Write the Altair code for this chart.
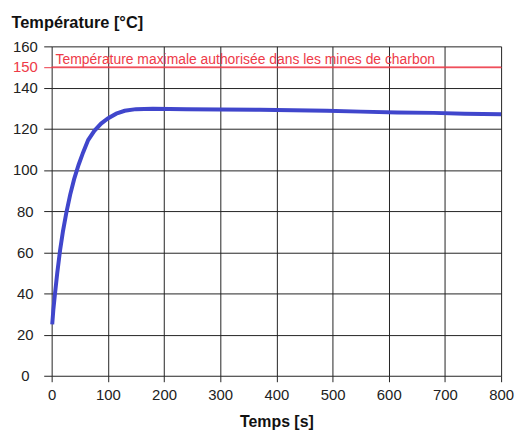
import altair as alt
import pandas as pd

# Temperature curve
temps_s = [1, 3, 6, 10, 15, 20, 26, 33, 40, 48, 56, 65, 76, 88, 100, 115, 130, 150,
           180, 240, 300, 370, 430, 490, 550, 615, 680, 735, 800]
temp_c = [25, 32, 40, 50, 61, 70, 79, 88, 95.5, 102.5, 108.5, 114.5, 119, 122.5, 125,
          127.3, 128.7, 129.5, 129.7, 129.5, 129.3, 129.2, 129.0, 128.7, 128.3, 127.9,
          127.7, 127.3, 127.0]

limit_value = [150]
limit_label = ["Température maximale authorisée dans les mines de charbon"]
y_ticks = [0, 20, 40, 60, 80, 100, 120, 140, 150, 160]
x_ticks = [0, 100, 200, 300, 400, 500, 600, 700, 800]

RED = "#ee3a48"
BLUE = "#4046cc"
FONT = "Liberation Sans"

df = pd.DataFrame({"t": temps_s, "T": temp_c})
lim = pd.DataFrame({"y": limit_value, "x": [0], "label": limit_label})

xscale = alt.Scale(domain=[0, 800], nice=False, zero=False)
yscale = alt.Scale(domain=[0, 160], nice=False)

xaxis = alt.Axis(values=x_ticks, grid=True, gridColor="#222", gridOpacity=1, gridWidth=1,
                 tickColor="#222", tickSize=6, domain=False, labelFont=FONT, labelFontSize=15,
                 labelColor="#222", labelPadding=6, labelOverlap=False, labelFlush=False,
                 title="Temps [s]", titleFont=FONT,
                 titleFontSize=16, titleFontWeight="bold", titleColor="#111", titlePadding=11)

cond_color = {"condition": {"test": "datum.value == 150", "value": RED}, "value": "#222"}
yaxis = alt.Axis(values=y_ticks, grid=True, gridColor=cond_color, gridOpacity=1, gridWidth=1,
                 tickColor=cond_color, tickSize=8, domain=False, labelFont=FONT, labelFontSize=15,
                 labelColor=cond_color, labelPadding=19, labelAlign="center", labelOverlap=False,
                 labelFlush=False, title="Température [°C]",
                 titleFont=FONT, titleFontSize=16.5, titleFontWeight="bold", titleColor="#111",
                 titleAngle=0, titleAlign="left", titleBaseline="alphabetic", titleX=-41, titleY=-19)

line = alt.Chart(df).mark_line(color=BLUE, strokeWidth=4).encode(
    x=alt.X("t:Q", scale=xscale, axis=xaxis),
    y=alt.Y("T:Q", scale=yscale, axis=yaxis),
)

rule = alt.Chart(lim).mark_rule(color=RED, strokeWidth=1).encode(
    y=alt.Y("y:Q", scale=yscale, axis=yaxis)
)

txt = alt.Chart(lim).mark_text(color=RED, font=FONT, fontSize=14, align="left",
                               baseline="alphabetic", dx=4, dy=-3).encode(
    x=alt.X("x:Q", scale=xscale, axis=xaxis),
    y=alt.Y("y:Q", scale=yscale, axis=yaxis),
    text="label:N",
)

chart = alt.layer(rule, line, txt).properties(
    width=453, height=332,
    autosize=alt.AutoSizeParams(type="none"),
    padding={"left": 44, "top": 37, "right": 14, "bottom": 54},
    background="white",
).configure_view(stroke=None).configure_axis(labelOverlap=False)

chart.save("out.html", embed_options={"renderer": "svg", "actions": False})
